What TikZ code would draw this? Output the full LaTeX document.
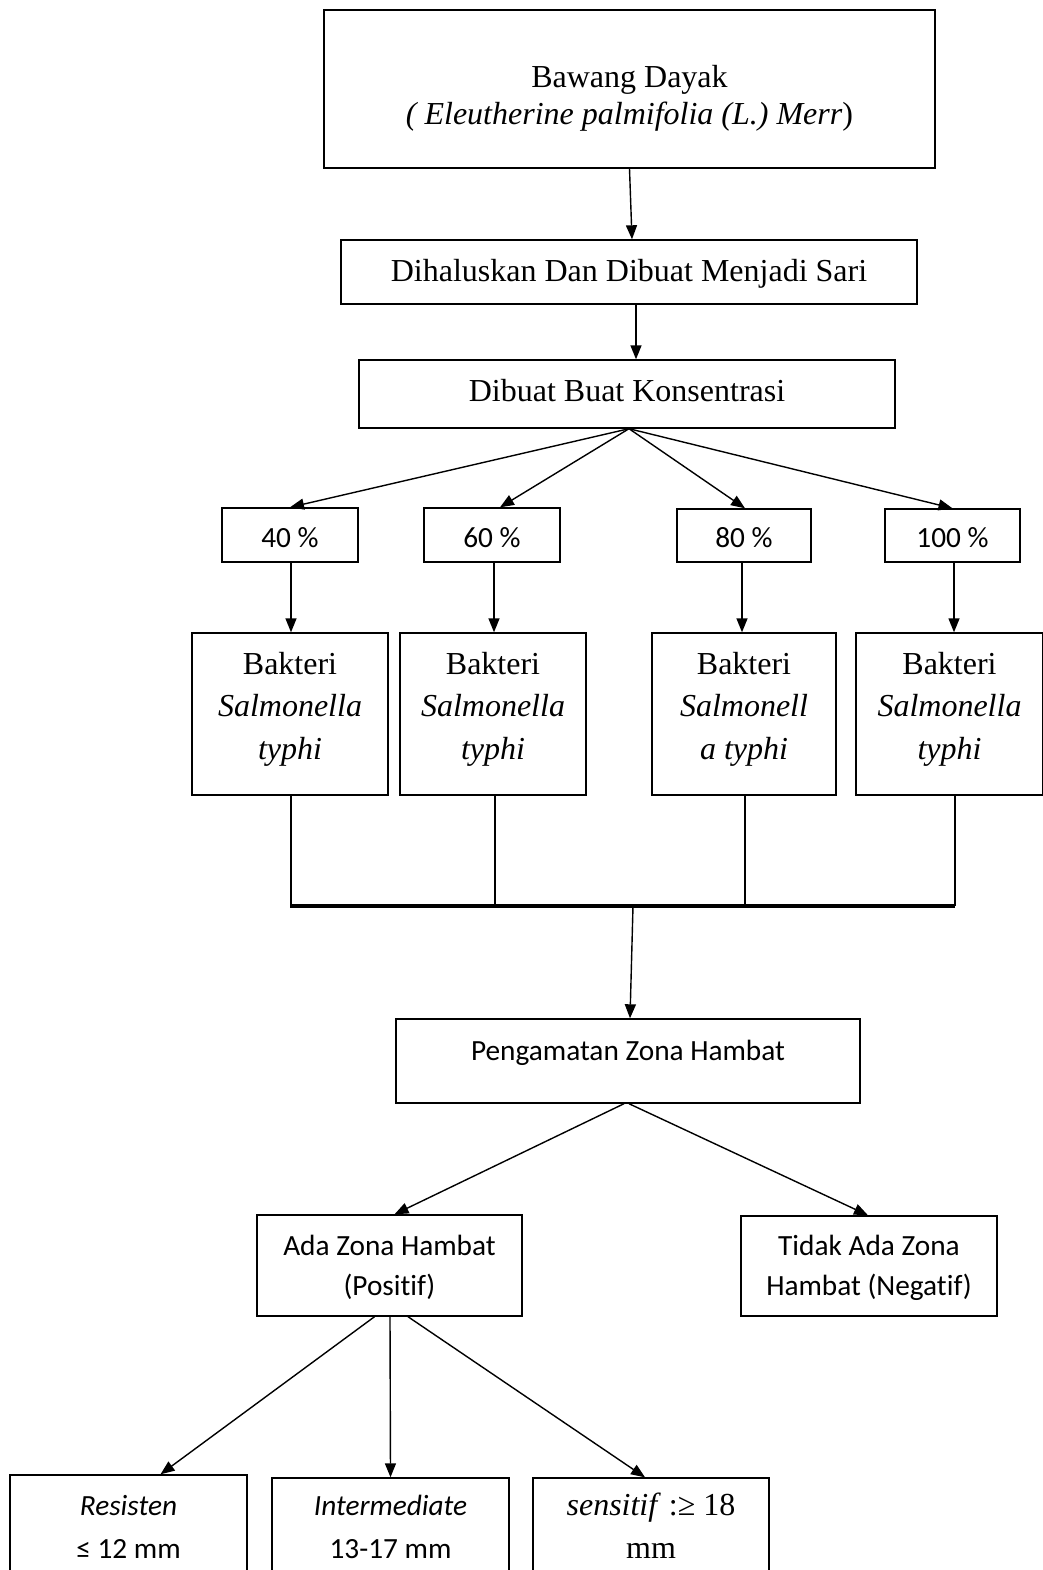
\documentclass[tikz,border=0pt]{standalone}
\usepackage{fontspec}
\setmainfont{Liberation Serif}
\newfontfamily\calibrifont[Ligatures=NoCommon]{Carlito}
\usetikzlibrary{arrows.meta}
\newcommand\Sh[1]{\rule{0pt}{#1pt}}
\newcommand\Sd[1]{\rule[-#1pt]{0pt}{#1pt}}
\tikzset{
  box/.style={draw, line width=1.4pt, inner sep=0pt, align=center, anchor=center},
  serif/.style={font=\fontsize{32}{42.5}\selectfont},
  sans/.style={font=\calibrifont\fontsize{29.3}{40}\selectfont},
  arr/.style={line width=1.4pt, -{Triangle[length=14pt,width=11pt]}},
  bar/.style={line width=2.6pt},
}
\begin{document}
\begin{tikzpicture}[x=1pt,y=-1pt]
\useasboundingbox (0,0) rectangle (1043,1570);
% top
\node[box, font=\fontsize{32}{37}\selectfont, minimum width=611, minimum height=158] (top) at (629.5,89)
  {\Sh{78}Bawang Dayak\\\textit{( Eleutherine palmifolia (L.) Merr})\Sd{43}};
\node[box, serif, minimum width=576, minimum height=64] (dih) at (629,272)
  {\Sh{41}Dihaluskan Dan Dibuat Menjadi Sari\Sd{23}};
\node[box, serif, minimum width=536, minimum height=68] (dib) at (627,394)
  {\Sh{41}Dibuat Buat Konsentrasi\Sd{27}};
% percentages
\node[box, sans, minimum width=136, minimum height=54] (p40) at (290,535) {\Sh{39}40 \%\Sd{15}};
\node[box, sans, minimum width=136, minimum height=54] (p60) at (492,535) {\Sh{39}60 \%\Sd{15}};
\node[box, sans, minimum width=134, minimum height=53] (p80) at (744,535.5) {\Sh{38}80 \%\Sd{15}};
\node[box, sans, minimum width=135, minimum height=53] (p100) at (952.5,535.5) {\Sh{38}100 \%\Sd{15}};
% bacteria
\node[box, serif, minimum width=196, minimum height=162] (b1) at (290,714)
  {\Sh{41}Bakteri\\\textit{Salmonella}\\\textit{typhi}\Sd{36}};
\node[box, serif, minimum width=186, minimum height=162] (b2) at (493,714)
  {\Sh{41}Bakteri\\\textit{Salmonella}\\\textit{typhi}\Sd{36}};
\node[box, serif, minimum width=184, minimum height=162] (b3) at (744,714)
  {\Sh{41}Bakteri\\\textit{Salmonell}\\\textit{a typhi}\Sd{36}};
\node[box, serif, minimum width=187, minimum height=162] (b4) at (949.5,714)
  {\Sh{41}Bakteri\\\textit{Salmonella}\\\textit{typhi}\Sd{36}};
% observation
\node[box, sans, minimum width=464, minimum height=84] (peng) at (628,1061)
  {\Sh{41}Pengamatan Zona Hambat\Sd{43}};
\node[box, sans, minimum width=265, minimum height=101] (ada) at (389.5,1265.5)
  {\Sh{40}Ada Zona Hambat\\(Positif)\Sd{21}};
\node[box, sans, minimum width=256, minimum height=100] (tidak) at (869,1266)
  {\Sh{39}Tidak Ada Zona\\Hambat (Negatif)\Sd{21}};
% results
\node[box, font=\calibrifont\fontsize{29.3}{43}\selectfont, minimum width=237, minimum height=125] (res) at (128.5,1537.5)
  {\Sh{40}\textit{Resisten}\\≤ 12 mm\Sd{42}};
\node[box, font=\calibrifont\fontsize{29.3}{43}\selectfont, minimum width=237, minimum height=122] (int) at (390.5,1539)
  {\Sh{37}\textit{Intermediate}\\13-17 mm\Sd{42}};
\node[box, font=\fontsize{32}{43}\selectfont, minimum width=236, minimum height=122] (sen) at (651,1539)
  {\Sh{37}\textit{sensitif} :≥ 18\\mm\Sd{42}};
% arrows
\draw[arr] (top.south) -- ([xshift=3]dih.north);
\draw[arr] ([xshift=7]dih.south) -- ([xshift=9]dib.north);
\coordinate (fan) at ([xshift=2]dib.south);
\draw[arr] (fan) -- (p40.north);
\draw[arr] (fan) -- ([xshift=8]p60.north);
\draw[arr] (fan) -- ([xshift=1]p80.north);
\draw[arr] (fan) -- (p100.north);
\draw[arr] ([xshift=1]p40.south) -- ([xshift=1]p40.south |- b1.north);
\draw[arr] ([xshift=2]p60.south) -- ([xshift=2]p60.south |- b2.north);
\draw[arr] ([xshift=-2]p80.south) -- ([xshift=-2]p80.south |- b3.north);
\draw[arr] ([xshift=1.5]p100.south) -- ([xshift=1.5]p100.south |- b4.north);
% bracket
\coordinate (jl) at (290,906);
\coordinate (jr) at (955,906);
\coordinate (j) at (633,906);
\draw[bar] ([xshift=1]b1.south) -- ([xshift=1]b1.south |- jl);
\draw[bar] ([xshift=2]b2.south) -- ([xshift=2]b2.south |- jl);
\draw[bar] ([xshift=1]b3.south) -- ([xshift=1]b3.south |- jl);
\draw[bar] ([xshift=5.5]b4.south) -- ([xshift=5.5]b4.south |- jl);
\draw[line width=3.8pt] (jl) -- (jr);
\draw[arr] (j) -- ([xshift=2]peng.north);
\draw[arr] ([xshift=-4]peng.south) -- ([xshift=5]ada.north);
\draw[arr] ([xshift=1]peng.south) -- ([xshift=-1]tidak.north);
\draw[arr] ([xshift=-15]ada.south) -- ([xshift=32]res.north);
\draw[arr] ([xshift=0.5]ada.south) -- ([xshift=0]int.north);
\draw[arr] ([xshift=18.5]ada.south) -- ([xshift=-6]sen.north);
\end{tikzpicture}
\end{document}
